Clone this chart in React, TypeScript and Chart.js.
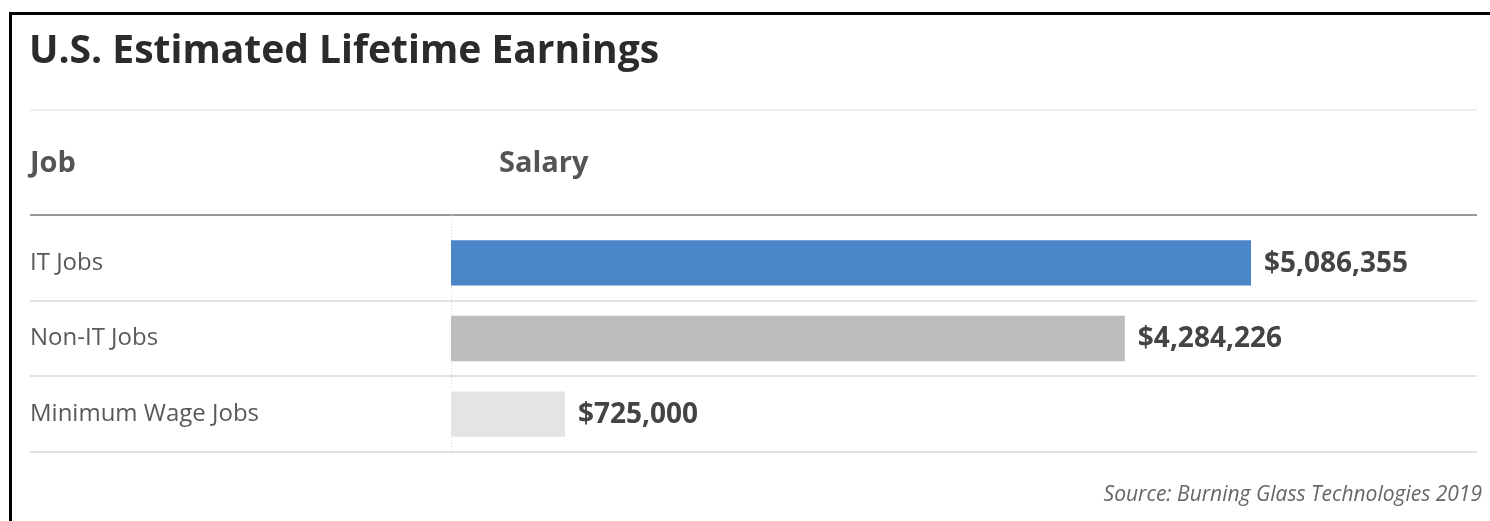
import React, { useEffect, useRef } from "react";
import { Chart, registerables } from "chart.js";

Chart.register(...registerables);

const TITLE = "U.S. Estimated Lifetime Earnings";
const HEADER_JOB = "Job";
const HEADER_SALARY = "Salary";
const SOURCE = "Source: Burning Glass Technologies 2019";
const jobs = ["IT Jobs", "Non-IT Jobs", "Minimum Wage Jobs"];
const salaries = [5086355, 4284226, 725000];
const barColors = ["#4a86c8", "#bdbdbd", "#e4e4e4"];
const X_MAX = 6523000;

const FONT = "'Open Sans', 'DejaVu Sans', sans-serif";

const fmt = (v: number) => "$" + v.toLocaleString("en-US");

const decorPlugin = {
  id: "decor",
  beforeDraw(chart: any) {
    const { ctx, chartArea, scales } = chart;
    const ys = scales.y;
    ctx.save();
    // white background
    ctx.fillStyle = "#ffffff";
    ctx.fillRect(0, 0, chart.width, chart.height);
    // black frame (top & left)
    ctx.fillStyle = "#000000";
    ctx.fillRect(9, 12, chart.width - 9, 3);
    ctx.fillRect(9, 12, 3, chart.height - 12);

    const left = 30;
    const right = chartArea.right;
    // title
    ctx.fillStyle = "#2b2b2b";
    ctx.font = `bold 39px ${FONT}`;
    ctx.textBaseline = "alphabetic";
    ctx.textAlign = "left";
    ctx.fillText(TITLE, left - 1, 63);
    // light line under title
    ctx.fillStyle = "#eeeeee";
    ctx.fillRect(left, 109, right - left, 2);
    // header
    ctx.fillStyle = "#555555";
    ctx.font = `bold 29px ${FONT}`;
    ctx.fillText(HEADER_JOB, left, 172);
    ctx.fillText(HEADER_SALARY, chartArea.left + 48, 172);
    // header line
    ctx.fillStyle = "#9a9a9a";
    ctx.fillRect(left, chartArea.top - 11, right - left, 2);
    // row separators
    ctx.fillStyle = "#e2e2e2";
    const n = jobs.length;
    for (let i = 0; i < n; i++) {
      const yb =
        i < n - 1
          ? (ys.getPixelForValue(i) + ys.getPixelForValue(i + 1)) / 2
          : chartArea.bottom;
      ctx.fillRect(left, Math.round(yb) - 1, right - left, 2);
    }
    // vertical axis line (dotted, faint)
    ctx.strokeStyle = "#d8d8d8";
    ctx.lineWidth = 1;
    ctx.setLineDash([1, 2]);
    ctx.beginPath();
    ctx.moveTo(chartArea.left + 0.5, chartArea.top - 10);
    ctx.lineTo(chartArea.left + 0.5, chartArea.bottom + 3);
    ctx.stroke();
    ctx.setLineDash([]);
    // source
    ctx.fillStyle = "#666666";
    ctx.font = `italic 21px ${FONT}`;
    ctx.textAlign = "right";
    ctx.fillText(SOURCE, chart.width - 8, 501);
    ctx.restore();
  },
  afterDatasetsDraw(chart: any) {
    const { ctx } = chart;
    const meta = chart.getDatasetMeta(0);
    ctx.save();
    ctx.fillStyle = "#444444";
    ctx.font = `bold 28px ${FONT}`;
    ctx.textAlign = "left";
    ctx.textBaseline = "middle";
    meta.data.forEach((bar: any, i: number) => {
      ctx.fillText(fmt(salaries[i]), bar.x + 13, bar.y + 1);
    });
    ctx.restore();
  },
};

export default function App() {
  const ref = useRef<HTMLCanvasElement | null>(null);
  useEffect(() => {
    if (!ref.current) return;
    const chart = new Chart(ref.current, {
      type: "bar",
      data: {
        labels: jobs,
        datasets: [
          {
            data: salaries,
            backgroundColor: barColors,
            borderWidth: 0,
            barPercentage: 0.6,
            categoryPercentage: 1,
          },
        ],
      },
      options: {
        indexAxis: "y",
        animation: false,
        responsive: false,
        maintainAspectRatio: false,
        devicePixelRatio: 1,
        layout: { padding: { left: 30, right: 13, top: 225, bottom: 69 } },
        plugins: {
          legend: { display: false },
          tooltip: { enabled: false },
          title: { display: false },
        },
        scales: {
          x: {
            min: 0,
            max: X_MAX,
            display: false,
            grid: { display: false },
          },
          y: {
            grid: { display: false, drawTicks: false },
            border: { display: false },
            ticks: {
              crossAlign: "far",
              padding: 0,
              color: "#595959",
              font: { family: FONT, size: 24 },
            },
            afterFit(scale: any) {
              scale.width = 421;
            },
          },
        },
      },
      plugins: [decorPlugin],
    } as any);
    return () => chart.destroy();
  }, []);
  return (
    <div style={{ position: "absolute", left: 0, top: 0, width: 1490, height: 521 }}>
      <canvas ref={ref} width={1490} height={521} style={{ width: 1490, height: 521, display: "block" }} />
    </div>
  );
}
